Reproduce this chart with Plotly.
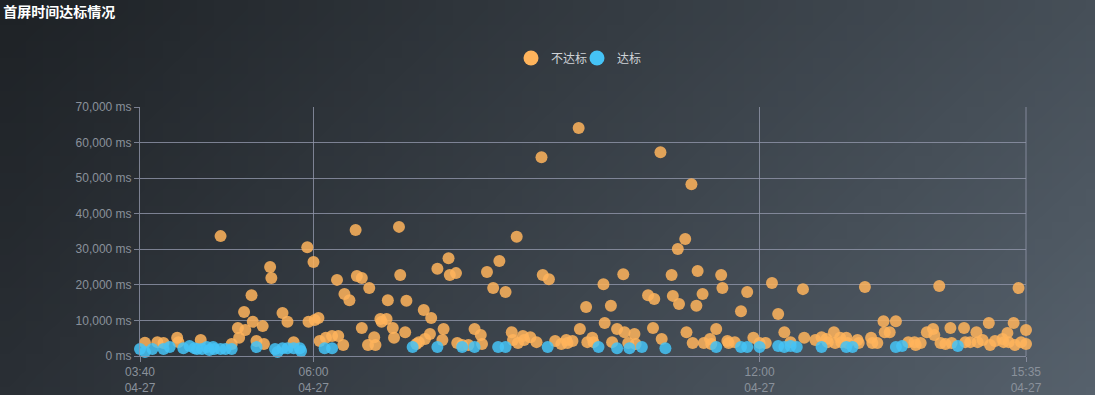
import base64
import struct
import zlib

import plotly.graph_objects as go

DAY = "2024-04-27"

# 不达标 (not meeting standard)
fail_times = [
    "03:44", "03:54", "03:59", "04:10", "04:11", "04:29", "04:45", "04:54", "04:59", "05:00",
    "05:04", "05:05", "05:10", "05:11", "05:14", "05:19", "05:20", "05:25", "05:26", "05:35",
    "05:39", "05:44", "05:55", "05:56", "06:00", "06:01", "06:04", "06:05", "06:10", "06:15",
    "06:19", "06:20", "06:24", "06:25", "06:29", "06:34", "06:35", "06:39", "06:39", "06:44",
    "06:45", "06:49", "06:50", "06:54", "06:55", "06:59", "07:00", "07:04", "07:05", "07:09",
    "07:10", "07:14", "07:15", "07:23", "07:25", "07:29", "07:30", "07:34", "07:35", "07:40",
    "07:44", "07:45", "07:49", "07:50", "07:55", "07:56", "08:00", "08:05", "08:10", "08:15",
    "08:16", "08:20", "08:25", "08:30", "08:35", "08:40", "08:41", "08:44", "08:45", "08:49",
    "08:50", "08:55", "09:00", "09:04", "09:05", "09:10", "09:15", "09:20", "09:24", "09:25",
    "09:29", "09:34", "09:35", "09:40", "09:41", "09:45", "09:46", "09:54", "09:55", "10:00",
    "10:01", "10:05", "10:10", "10:11", "10:14", "10:19", "10:20", "10:30", "10:34", "10:35",
    "10:40", "10:41", "10:49", "10:50", "10:54", "10:55", "11:00", "11:01", "11:05", "11:06",
    "11:09", "11:10", "11:14", "11:15", "11:20", "11:21", "11:25", "11:29", "11:30", "11:34",
    "11:35", "11:40", "11:45", "11:50", "11:55", "12:00", "12:05", "12:10", "12:15", "12:20",
    "12:25", "12:35", "12:36", "12:45", "12:50", "12:54", "12:55", "13:00", "13:01", "13:05",
    "13:06", "13:10", "13:11", "13:19", "13:20", "13:25", "13:30", "13:31", "13:35", "13:40",
    "13:41", "13:45", "13:50", "14:00", "14:05", "14:06", "14:10", "14:15", "14:20", "14:21",
    "14:25", "14:26", "14:30", "14:34", "14:35", "14:45", "14:46", "14:50", "14:55", "14:56",
    "15:00", "15:05", "15:06", "15:10", "15:16", "15:17", "15:20", "15:21", "15:25", "15:26",
    "15:29", "15:31", "15:35", "15:35",
]
fail_values = [
    3700, 3900, 3650, 5100, 3900, 4500, 33700, 3400, 7900, 5100,
    12400, 7300, 17100, 9600, 4200, 8400, 3400, 25000, 21900, 12100,
    9600, 3900, 30600, 9600, 26400, 10100, 10700, 4200, 5100, 5600,
    21400, 5600, 3100, 17400, 15700, 35400, 22500, 21900, 7900, 3100,
    19100, 5300, 3100, 10400, 9600, 10400, 15700, 7900, 5100, 36300,
    22800, 6700, 15500, 3400, 3900, 12900, 4800, 6200, 10700, 24500,
    4500, 7600, 27500, 22800, 23300, 3650, 3100, 3100, 7600, 5900,
    3400, 23600, 19100, 26700, 18000, 6700, 4500, 33500, 3650, 5600,
    4500, 5300, 3900, 55900, 22800, 21600, 4200, 3400, 4500, 3650,
    4200, 64100, 7600, 13800, 3900, 5100, 3900, 20200, 9300, 14100,
    3900, 7600, 23000, 6700, 3650, 6200, 3400, 17100, 7900, 16000,
    57300, 4800, 22800, 16900, 30100, 14600, 32900, 6700, 48300, 3650,
    14100, 23900, 17400, 3650, 4800, 3400, 7600, 22800, 19100, 4200,
    3650, 3900, 12600, 18000, 5100, 3650, 3650, 20500, 11800, 6700,
    3900, 18800, 5100, 4500, 5300, 4800, 3900, 6700, 3650, 5100,
    3900, 5100, 3650, 4500, 3650, 19400, 5100, 3650, 3650, 9800,
    6700, 6700, 9800, 3900, 3900, 3100, 3650, 6700, 7600, 5900,
    19700, 3650, 3400, 7900, 3650, 7900, 3900, 3900, 6700, 3900,
    4500, 9300, 3100, 4200, 4800, 3900, 6500, 3900, 9300, 3100,
    19100, 3900, 7300, 3400,
]

# 达标 (meeting standard)
pass_times = [
    "03:40", "03:44", "03:50", "03:59", "04:04", "04:15", "04:20", "04:24", "04:26", "04:30",
    "04:34", "04:36", "04:39", "04:40", "04:45", "04:49", "04:54", "05:14", "05:29", "05:31",
    "05:35", "05:39", "05:44", "05:49", "05:50", "06:09", "06:15", "07:20", "07:40", "08:00",
    "08:10", "08:29", "08:35", "09:09", "09:50", "10:05", "10:15", "10:25", "10:44", "11:25",
    "11:45", "11:50", "12:00", "12:15", "12:20", "12:25", "12:30", "12:50", "13:10", "13:15",
    "13:50", "13:55", "14:40",
]
pass_values = [
    2000, 1100, 2000, 2000, 2500, 2200, 2800, 2200, 2000, 2000,
    2500, 1700, 2500, 2000, 2000, 2000, 2000, 2500, 2000, 1100,
    2200, 2200, 2200, 2200, 1400, 2200, 2200, 2500, 2500, 2500,
    2500, 2500, 2500, 2500, 2500, 2200, 2200, 2500, 2200, 2500,
    2500, 2500, 2500, 2800, 2500, 2800, 2500, 2500, 2500, 2500,
    2500, 2800, 2800,
]

tick_times = ["03:40", "06:00", "12:00", "15:35"]
tick_dates = ["04-27", "04-27", "04-27", "04-27"]
series_names = ["不达标", "达标"]
series_colors = ["#ffb45c", "#45c3f6"]

FONT = "Liberation Sans, Arial, Noto Sans CJK SC, sans-serif"
CJK = "Noto Sans CJK SC, sans-serif"


def full(t):
    return f"{DAY} {t}"


def gradient_png(w, h, tl, tr, bl, br):
    rows = []
    for j in range(h):
        fy = j / (h - 1)
        row = bytearray([0])
        for i in range(w):
            fx = i / (w - 1)
            for k in range(3):
                top = tl[k] + (tr[k] - tl[k]) * fx
                bot = bl[k] + (br[k] - bl[k]) * fx
                row.append(int(round(top + (bot - top) * fy)))
        rows.append(bytes(row))
    raw = b"".join(rows)

    def chunk(tag, data):
        c = tag + data
        return struct.pack(">I", len(data)) + c + struct.pack(">I", zlib.crc32(c) & 0xFFFFFFFF)

    png = b"\x89PNG\r\n\x1a\n"
    png += chunk(b"IHDR", struct.pack(">IIBBBBB", w, h, 8, 2, 0, 0, 0))
    png += chunk(b"IDAT", zlib.compress(raw, 9))
    png += chunk(b"IEND", b"")
    return "data:image/png;base64," + base64.b64encode(png).decode()


W, H = 1095, 395
L, R, T, B = 140, 69, 107, 39
pw, ph = W - L - R, H - T - B

legend_ids = ["legend", "legend2"]
legend_left_px = [511, 577]

fig = go.Figure()
for name, color, ts, vs, lg in [
    (series_names[0], series_colors[0], fail_times, fail_values, legend_ids[0]),
    (series_names[1], series_colors[1], pass_times, pass_values, legend_ids[1]),
]:
    fig.add_trace(go.Scatter(
        x=[full(t) for t in ts], y=vs, mode="markers", name=name,
        legendgroup=name, showlegend=False,
        marker=dict(color=color, size=12, opacity=0.85, line=dict(width=0)),
        cliponaxis=False,
    ))
    # legend entry with a larger swatch
    fig.add_trace(go.Scatter(
        x=[None], y=[None], mode="markers", name=name, legendgroup=name,
        legend=lg,
        marker=dict(color=color, size=15, line=dict(width=0)),
    ))

bg = gradient_png(64, 24,
                  (0x1e, 0x22, 0x26), (0x46, 0x4f, 0x58),
                  (0x2a, 0x2f, 0x35), (0x56, 0x61, 0x6c))

legend_style = dict(orientation="h", xanchor="left", yanchor="middle",
                    y=(H - B - 58) / ph,
                    font=dict(family=CJK, size=12, color="#d0d4d8"),
                    bgcolor="rgba(0,0,0,0)", itemsizing="trace",
                    borderwidth=0)

grid = "rgba(145,150,170,0.8)"
fig.update_layout(
    width=W, height=H, autosize=False,
    margin=dict(l=L, r=R, t=T, b=B, autoexpand=False),
    paper_bgcolor="#2f353c",
    plot_bgcolor="rgba(0,0,0,0)",
    images=[dict(source=bg, xref="paper", yref="paper",
                 x=-L / pw, y=(H - B) / ph, sizex=W / pw, sizey=H / ph,
                 xanchor="left", yanchor="top", sizing="stretch", layer="below")],
    title=dict(text="<b>首屏时间达标情况</b>", x=0.003, xanchor="left",
               xref="container", y=1 - 12 / H, yref="container", yanchor="middle",
               font=dict(family=CJK, size=14, color="#ffffff")),
    legend=dict(legend_style, x=(legend_left_px[0] - L) / pw),
    legend2=dict(legend_style, x=(legend_left_px[1] - L) / pw),
    showlegend=True,
    hovermode="closest",
)
fig.update_xaxes(
    type="date", automargin=False,
    range=[full("03:40"), full("15:35")],
    tickvals=[full(t) for t in tick_times],
    ticktext=[f"{t}<br>{d}" for t, d in zip(tick_times, tick_dates)],
    showgrid=True, gridcolor=grid, gridwidth=1,
    showline=True, linecolor=grid, linewidth=1, mirror=False,
    ticks="outside", ticklen=5, tickcolor=grid,
    tickfont=dict(family=FONT, size=12, color="#8a919b"),
    zeroline=False,
)
fig.update_yaxes(
    automargin=False,
    range=[0, 70000], dtick=10000, tickformat=",", ticksuffix=" ms",
    showgrid=True, gridcolor=grid, gridwidth=1,
    showline=True, linecolor=grid, linewidth=1,
    ticks="outside", ticklen=5, tickcolor=grid,
    tickfont=dict(family=FONT, size=12, color="#8a919b"),
    zeroline=False,
)
fig.add_shape(type="line", xref="paper", yref="paper", x0=1, x1=1, y0=0, y1=1,
              line=dict(color=grid, width=1), layer="below")

fig.write_html(
    "out.html",
    config={"displayModeBar": False, "responsive": False},
    post_script="document.body.style.margin='0';document.body.style.overflow='hidden';"
                "document.body.style.background='#2f353c';",
)
